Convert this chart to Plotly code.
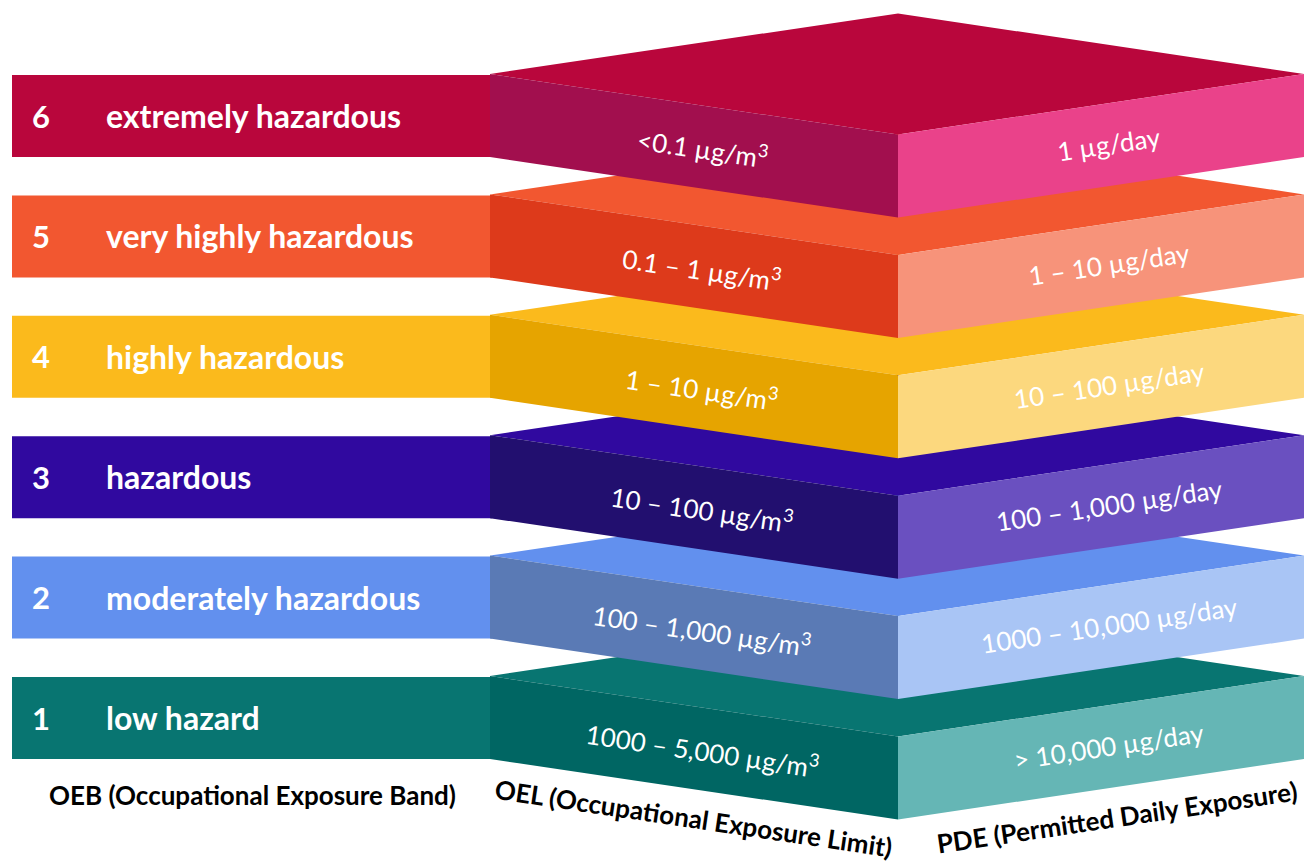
import math
import plotly.graph_objects as go

# ---- data ----
levels = [6, 5, 4, 3, 2, 1]
band_names = ["extremely hazardous", "very highly hazardous", "highly hazardous",
              "hazardous", "moderately hazardous", "low hazard"]
oel_labels = ["&lt;0.1 µg/m<sup>3</sup>", "0.1 – 1 µg/m<sup>3</sup>", "1 – 10 µg/m<sup>3</sup>",
              "10 – 100 µg/m<sup>3</sup>", "100 – 1,000 µg/m<sup>3</sup>", "1000 – 5,000 µg/m<sup>3</sup>"]
pde_labels = ["1 µg/day", "1 – 10 µg/day", "10 – 100 µg/day", "100 – 1,000 µg/day",
              "1000 – 10,000 µg/day", "&gt; 10,000 µg/day"]
top_colors = ["#B9063C", "#F25730", "#FBBA1C", "#30099F", "#6290EE", "#087571"]
left_colors = ["#A20F4E", "#DD3A1B", "#E6A400", "#220F6F", "#5A7AB5", "#006663"]
right_colors = ["#EA428A", "#F7937A", "#FCD87E", "#6A50C0", "#A9C5F5", "#65B6B5"]
axis_titles = ["OEB (Occupational Exposure Band)", "OEL (Occupational Exposure Limit)",
               "PDE (Permitted Daily Exposure)"]

# ---- geometry ----
W, H = 1313, 861
PAGE_OFF = 8  # default body margin of the html page
bar_x0, bar_x1 = 12, 492
xl, xc, xr = 490, 898, 1304
y_first, step = 74, 120.4
rise = 60.5
depth = 83
ang = math.degrees(math.atan(rise / (xc - xl)))

FONT = "Lato"
fig = go.Figure()

def poly(xs, ys, color):
    fig.add_trace(go.Scatter(x=xs + [xs[0]], y=ys + [ys[0]], mode="lines", fill="toself",
                             fillcolor=color, line=dict(width=0, color=color),
                             hoverinfo="skip", showlegend=False))

annotations = []
# draw bottom level first so upper blocks overlap
for i in reversed(range(len(levels))):
    t = y_first + i * step
    # left bar
    poly([bar_x0, bar_x1, bar_x1, bar_x0], [t + 1, t + 1, t + depth, t + depth], top_colors[i])
    # top face
    poly([xl, xc, xr, xc], [t, t - rise, t, t + rise], top_colors[i])
    # left face
    poly([xl, xc, xc, xl], [t, t + rise, t + rise + depth, t + depth], left_colors[i])
    # right face
    poly([xc, xr, xr, xc], [t + rise, t, t + depth, t + rise + depth], right_colors[i])

    annotations.append(dict(x=41, y=t + depth / 2, text=str(levels[i]), showarrow=False,
                            xanchor="center", yanchor="middle",
                            font=dict(family=FONT, size=31, color="white", weight="bold")))
    annotations.append(dict(x=104, y=t + depth / 2, text=band_names[i], showarrow=False,
                            xanchor="left", yanchor="middle",
                            font=dict(family=FONT, size=32, color="white", weight="bold")))
    annotations.append(dict(x=(xl + xc) / 2 + 8, y=t + rise / 2 + depth / 2 + 2, text=oel_labels[i],
                            showarrow=False, textangle=ang, xanchor="center", yanchor="middle",
                            font=dict(family=FONT, size=26, color="white")))
    annotations.append(dict(x=(xc + xr) / 2 + 8, y=t + rise / 2 + depth / 2 - 2, text=pde_labels[i],
                            showarrow=False, textangle=-ang, xanchor="center", yanchor="middle",
                            font=dict(family=FONT, size=26, color="white")))

bottom = y_first + (len(levels) - 1) * step
annotations.append(dict(x=252, y=bottom + depth + 36, text=axis_titles[0], showarrow=False,
                        xanchor="center", yanchor="middle",
                        font=dict(family=FONT, size=26, color="black", weight="bold")))
annotations.append(dict(x=(xl + xc) / 2 - 1, y=bottom + depth + 59, text=axis_titles[1], showarrow=False,
                        textangle=ang, xanchor="center", yanchor="middle",
                        font=dict(family=FONT, size=26, color="black", weight="bold")))
annotations.append(dict(x=(xc + xr) / 2 + 16, y=bottom + depth + 58, text=axis_titles[2], showarrow=False,
                        textangle=-ang, xanchor="center", yanchor="middle",
                        font=dict(family=FONT, size=26, color="black", weight="bold")))

fig.update_layout(
    width=W, height=H, margin=dict(l=0, r=0, t=0, b=0),
    paper_bgcolor="white", plot_bgcolor="white",
    xaxis=dict(range=[PAGE_OFF, W + PAGE_OFF], visible=False, fixedrange=True),
    yaxis=dict(range=[H + PAGE_OFF, PAGE_OFF], visible=False, fixedrange=True),
    annotations=annotations, showlegend=False,
)
fig.write_html("out.html")
